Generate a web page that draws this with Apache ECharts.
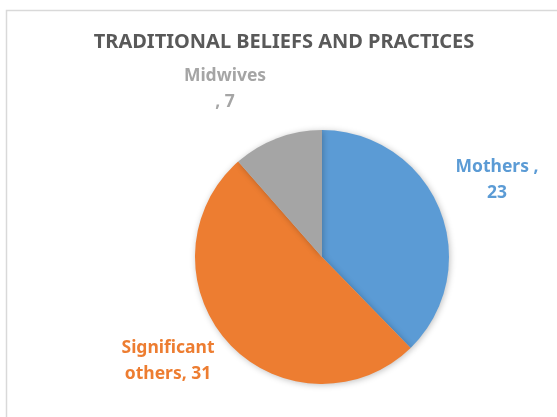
<!DOCTYPE html>
<html>
<head>
<meta charset="utf-8">
<script src="https://cdn.jsdelivr.net/npm/echarts@6/dist/echarts.min.js"></script>
<style>
  html, body { margin: 0; padding: 0; background: #fff; }
  #chart { width: 557px; height: 417px; }
</style>
</head>
<body>
<div id="chart"></div>
<script>
// Who passes on traditional beliefs and practices (counts)
const categories = ['Mothers', 'Significant others', 'Midwives'];
const counts = [23, 31, 7];
const colors = ['#5B9BD5', '#ED7D31', '#A5A5A5'];
const labelTexts = ['Mothers ,\n23', 'Significant\nothers, 31', 'Midwives\n, 7'];
// label anchor points (px) for each slice
const labelSpots = [[497, 180], [168, 361], [225, 89]];

const chart = echarts.init(document.getElementById('chart'), null, { renderer: 'canvas' });

chart.setOption({
  animation: false,
  backgroundColor: '#fff',
  graphic: [{
    type: 'rect',
    shape: { x: 6.5, y: 10.5, width: 600, height: 500 },
    style: { fill: 'none', stroke: '#D9D9D9', lineWidth: 1.5 },
    silent: true
  }],
  title: {
    text: 'TRADITIONAL BELIEFS AND PRACTICES',
    left: 279,
    top: 27,
    textAlign: 'center',
    textStyle: {
      fontFamily: 'Noto Sans',
      fontWeight: 'bold',
      fontSize: 20,
      color: '#595959'
    }
  },
  series: [{
    type: 'pie',
    center: [322, 257],
    radius: 127,
    startAngle: 90,
    clockwise: true,
    data: categories.map((name, i) => ({
      name,
      value: counts[i],
      itemStyle: { color: colors[i] },
      label: { color: colors[i] }
    })),
    itemStyle: {
      borderColor: '#fff',
      borderWidth: 0,
      shadowBlur: 6,
      shadowOffsetX: 1,
      shadowOffsetY: 1,
      shadowColor: 'rgba(0,0,0,0.25)'
    },
    label: {
      show: true,
      position: 'outside',
      formatter: p => labelTexts[p.dataIndex],
      fontFamily: 'Noto Sans',
      fontWeight: 'bold',
      fontSize: 17.5,
      lineHeight: 26,
      align: 'center',
      verticalAlign: 'middle',
      overflow: 'none',
      width: 200
    },
    labelLine: { show: false },
    labelLayout: p => ({
      x: labelSpots[p.dataIndex][0],
      y: labelSpots[p.dataIndex][1],
      align: 'center',
      verticalAlign: 'middle'
    }),
    emphasis: { disabled: true }
  }]
});
</script>
</body>
</html>
